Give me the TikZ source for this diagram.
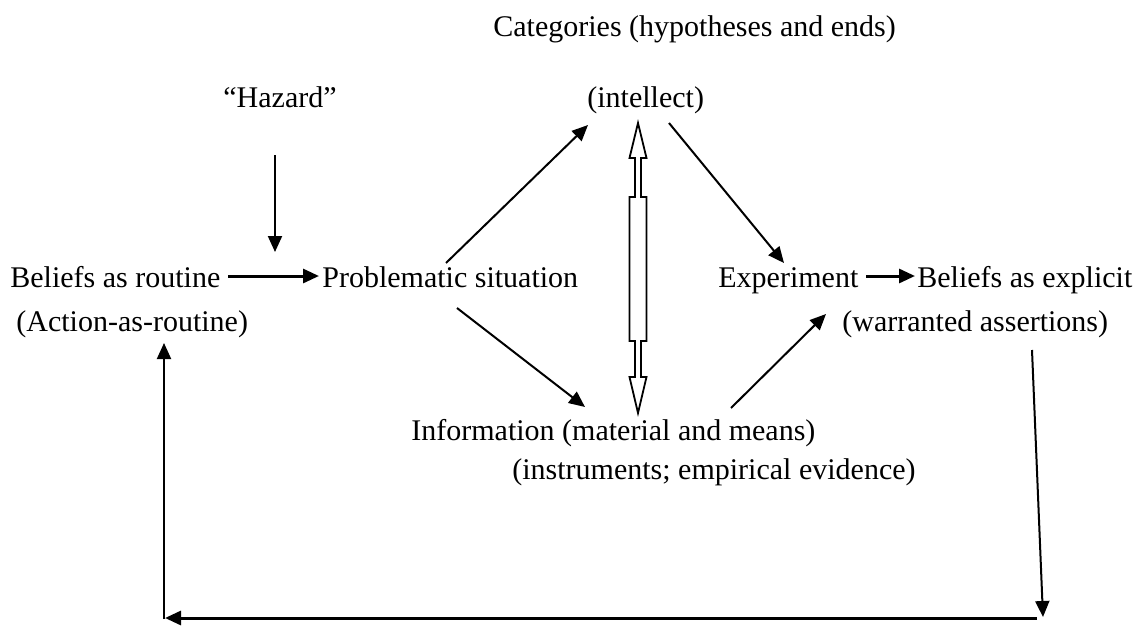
\documentclass[tikz,border=0pt]{standalone}
\usepackage{fontspec}
\setmainfont{Liberation Serif}
\usetikzlibrary{arrows.meta}
\begin{document}
\begin{tikzpicture}[x=0.5pt,y=-0.5pt,
  lbl/.style={anchor=base west,inner sep=0pt,font=\fontsize{15pt}{18pt}\selectfont},
  arr/.style={line width=1pt,-{Triangle[length=8pt,width=7pt]}},
  tarr/.style={line width=1.5pt,-{Triangle[length=8pt,width=7pt]}},
  dbl/.style={line width=0.9pt,draw=black,fill=white,line join=miter}]
\useasboundingbox (0,0) rectangle (1146,627);

% text nodes
\node[lbl] (cat) at (493,36) {Categories (hypotheses and ends)};
\node[lbl] (haz) at (223,107) {“Hazard”};
\node[lbl] (int) at (587,107) {(intellect)};
\node[lbl] (bel) at (10,287) {Beliefs as routine};
\node[lbl] (act) at (16,331) {(Action-as-routine)};
\node[lbl] (pro) at (322,287) {Problematic situation};
\node[lbl] (exp) at (718,287) {Experiment};
\node[lbl] (bex) at (917,287) {Beliefs as explicit};
\node[lbl] (war) at (842,331) {(warranted assertions)};
\node[lbl] (inf) at (411,440) {Information (material and means)};
\node[lbl] (ins) at (512,479) {(instruments; empirical evidence)};

% connector end points
\coordinate (hzA) at (275,155);  \coordinate (hzB) at (275,252);
\coordinate (brA) at (228,276);  \coordinate (brB) at (319,276);
\coordinate (puA) at (446,263);  \coordinate (puB) at (588,125);
\coordinate (ieA) at (669,123);  \coordinate (ieB) at (784,263);
\coordinate (eeA) at (866,276);  \coordinate (eeB) at (915,276);
\coordinate (pdA) at (457,308);  \coordinate (pdB) at (585,407);
\coordinate (iwA) at (731,408);  \coordinate (iwB) at (826,314);
\coordinate (rdA) at (1032,350); \coordinate (rdB) at (1043,617);
\coordinate (bhA) at (1037,618); \coordinate (bhB) at (165,618);
\coordinate (lvA) at (164,619);  \coordinate (lvB) at (164,343);

\draw[arr] (hzA) -- (hzB);
\draw[tarr] (brA) -- (brB);
\draw[arr] (puA) -- (puB);
\draw[arr] (ieA) -- (ieB);
\draw[tarr] (eeA) -- (eeB);
\draw[arr] (pdA) -- (pdB);
\draw[arr] (iwA) -- (iwB);
\draw[arr] (rdA) -- (rdB);
\draw[tarr] (bhA) -- (bhB);
\draw[arr] (lvA) -- (lvB);

% hollow double arrow
\path[dbl] (638,123) -- (646.5,158) -- (641,158) -- (641,197) -- (646.5,197)
  -- (646.5,341) -- (641,341) -- (641,377) -- (646.5,377) -- (638,413)
  -- (629.5,377) -- (635,377) -- (635,341) -- (629.5,341) -- (629.5,197)
  -- (635,197) -- (635,158) -- (629.5,158) -- cycle;
\end{tikzpicture}
\end{document}
